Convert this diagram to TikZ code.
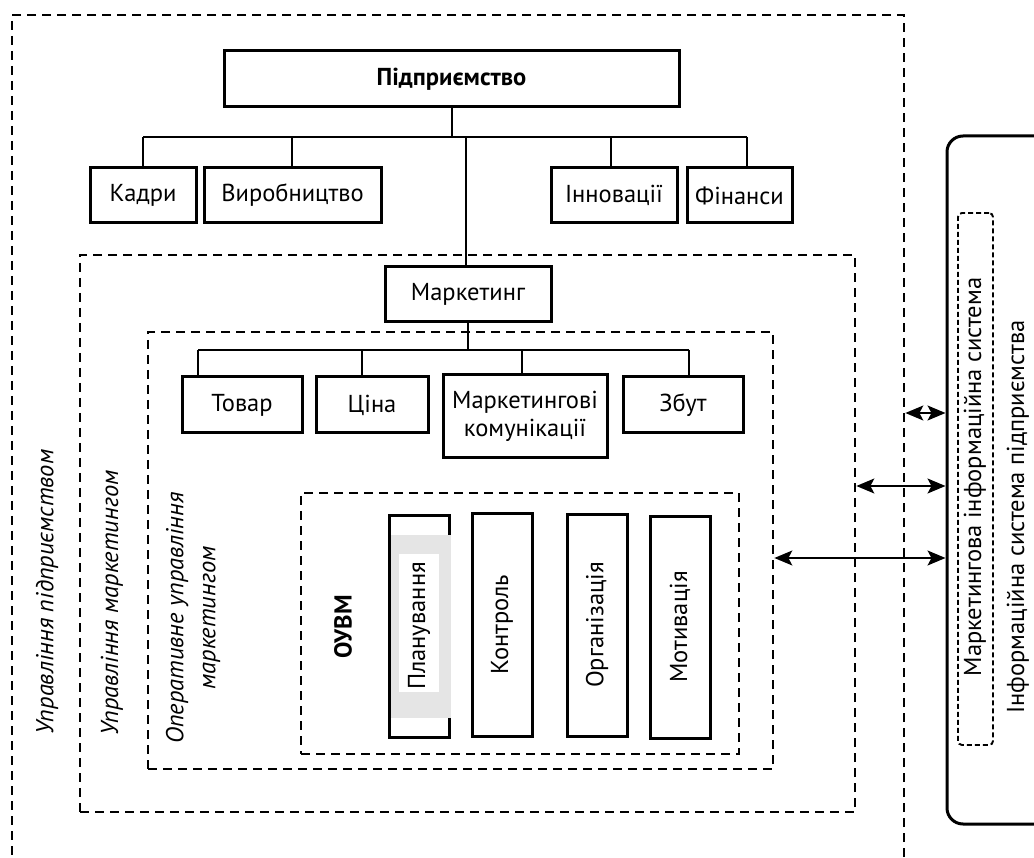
\documentclass[tikz,border=0pt]{standalone}
\usepackage{fontspec}
\setmainfont{PT Sans}
\usetikzlibrary{arrows.meta}
\newcommand\fsz{\fontsize{24.5}{28}\selectfont}
\begin{document}
\begin{tikzpicture}[x=1pt,y=-1pt,
  solidbox/.style={draw, line width=3pt, inner sep=0pt, align=center, font=\fsz},
  dbox/.style={draw, line width=2.7pt, dash pattern=on 9pt off 6pt, inner sep=0pt},
  conn/.style={line width=1.3pt},
  biarrow/.style={line width=1.4pt, {Stealth[length=18pt,width=15pt,inset=4pt]}-{Stealth[length=18pt,width=15pt,inset=4pt]}},
  lbl/.style={font=\fsz\itshape, rotate=90, align=center, inner sep=0pt},
  vtext/.style={font=\fsz, rotate=90, inner sep=0pt}]
\useasboundingbox (0,0) rectangle (1034,858);
\clip (0,0) rectangle (1034,858);

% dashed frames
\node[dbox, minimum width=892pt, minimum height=865pt] (outer) at (458,447.5) {};
\node[dbox, minimum width=775pt, minimum height=557pt] (um) at (467.5,533.5) {};
\node[dbox, minimum width=625pt, minimum height=437pt] (op) at (460.5,550.5) {};
\node[dbox, minimum width=438pt, minimum height=261pt] (ouvm) at (520,623.5) {};

% top level
\node[solidbox, minimum width=455pt, minimum height=56pt, font=\fsz\bfseries] (pidpr) at (451.5,79) {Підприємство};
\node[solidbox, minimum width=106pt, minimum height=55pt] (kadry) at (143,195.5) {Кадри};
\node[solidbox, minimum width=177pt, minimum height=55pt] (vyrob) at (292.5,195.5) {Виробництво};
\node[solidbox, minimum width=126pt, minimum height=55pt] (innov) at (614,195.5) {Інновації};
\node[solidbox, minimum width=105pt, minimum height=55pt] (finan) at (739.5,195.5) {Фінанси};

\coordinate (bus1) at (452,137);
\coordinate (b1a) at (143,137);
\coordinate (b1b) at (292,137);
\coordinate (b1m) at (466,137);
\coordinate (b1c) at (611,137);
\coordinate (b1d) at (747,137);
\draw[conn] (pidpr.south -| bus1) -- (bus1);
\draw[conn] (b1a) -- (b1d);
\draw[conn] (b1a) -- (b1a |- kadry.north);
\draw[conn] (b1b) -- (b1b |- vyrob.north);
\draw[conn] (b1c) -- (b1c |- innov.north);
\draw[conn] (b1d) -- (b1d |- finan.north);

% marketing
\node[solidbox, minimum width=166pt, minimum height=55pt] (mark) at (468,294.5) {Маркетинг};
\draw[conn] (b1m) -- (b1m |- mark.north);

\node[solidbox, minimum width=120pt, minimum height=56pt] (tovar) at (242,405) {Товар};
\node[solidbox, minimum width=112pt, minimum height=56pt] (tsina) at (372,405) {Ціна};
\node[solidbox, minimum width=164pt, minimum height=83pt] (mkom) at (525,416.5) {Маркетингові\\комунікації};
\node[solidbox, minimum width=120pt, minimum height=56pt] (zbut) at (683,405) {Збут};

\coordinate (bus2) at (468,350);
\coordinate (b2a) at (198,350);
\coordinate (b2b) at (362,350);
\coordinate (b2c) at (522,350);
\coordinate (b2d) at (689,350);
\draw[line width=2.2pt] (mark.south -| bus2) -- (bus2);
\draw[conn] (b2a) -- (b2d);
\draw[conn] (b2a) -- (b2a |- tovar.north);
\draw[conn] (b2b) -- (b2b |- tsina.north);
\draw[conn] (b2c) -- (b2c |- mkom.north);
\draw[conn] (b2d) -- (b2d |- zbut.north);

% OUVM functions
\node[solidbox, minimum width=60pt, minimum height=222pt] (plan) at (419,626) {};
\fill[black!10] (391,535) rectangle (451,718);
\fill[white] (399,554) rectangle (439,692);
\node[vtext] at (plan) {Планування};
\node[solidbox, minimum width=60pt, minimum height=223pt] (kontr) at (502,624.5) {\rotatebox{90}{Контроль}};
\node[solidbox, minimum width=60pt, minimum height=222pt] (org) at (597,625) {\rotatebox{90}{Організація}};
\node[solidbox, minimum width=60pt, minimum height=222pt] (motiv) at (680,627) {\rotatebox{90}{Мотивація}};
\node[vtext, font=\fsz\bfseries] (ouvmlbl) at (343,627) {ОУВМ};

% side labels
\node[lbl] (l1) at (47,592) {Управління підприємством};
\node[lbl] (l2) at (112,603) {Управління маркетингом};
\node[lbl] (l3) at (193,618) {Оперативне управління\\[4pt]маркетингом};

% information systems
\node[draw, line width=3pt, rounded corners=16pt, minimum width=113pt, minimum height=688pt] (isp) at (1003.5,480) {};
\node[draw, line width=1.9pt, dash pattern=on 5pt off 3pt, rounded corners=4pt, minimum width=35pt, minimum height=532pt, inner sep=0pt] (mis) at (975.5,479) {};
\node[vtext] (mislbl) at (975,477) {Маркетингова інформаційна система};
\node[vtext] (isplbl) at (1018,517) {Інформаційна система підприємства};

\coordinate (a1) at (0,413);
\coordinate (a2) at (0,486);
\coordinate (a3) at (0,558);
\draw[biarrow] (outer.east |- a1) -- (isp.west |- a1);
\draw[biarrow] (um.east |- a2) -- (isp.west |- a2);
\draw[biarrow] (op.east |- a3) -- (isp.west |- a3);
\end{tikzpicture}
\end{document}
